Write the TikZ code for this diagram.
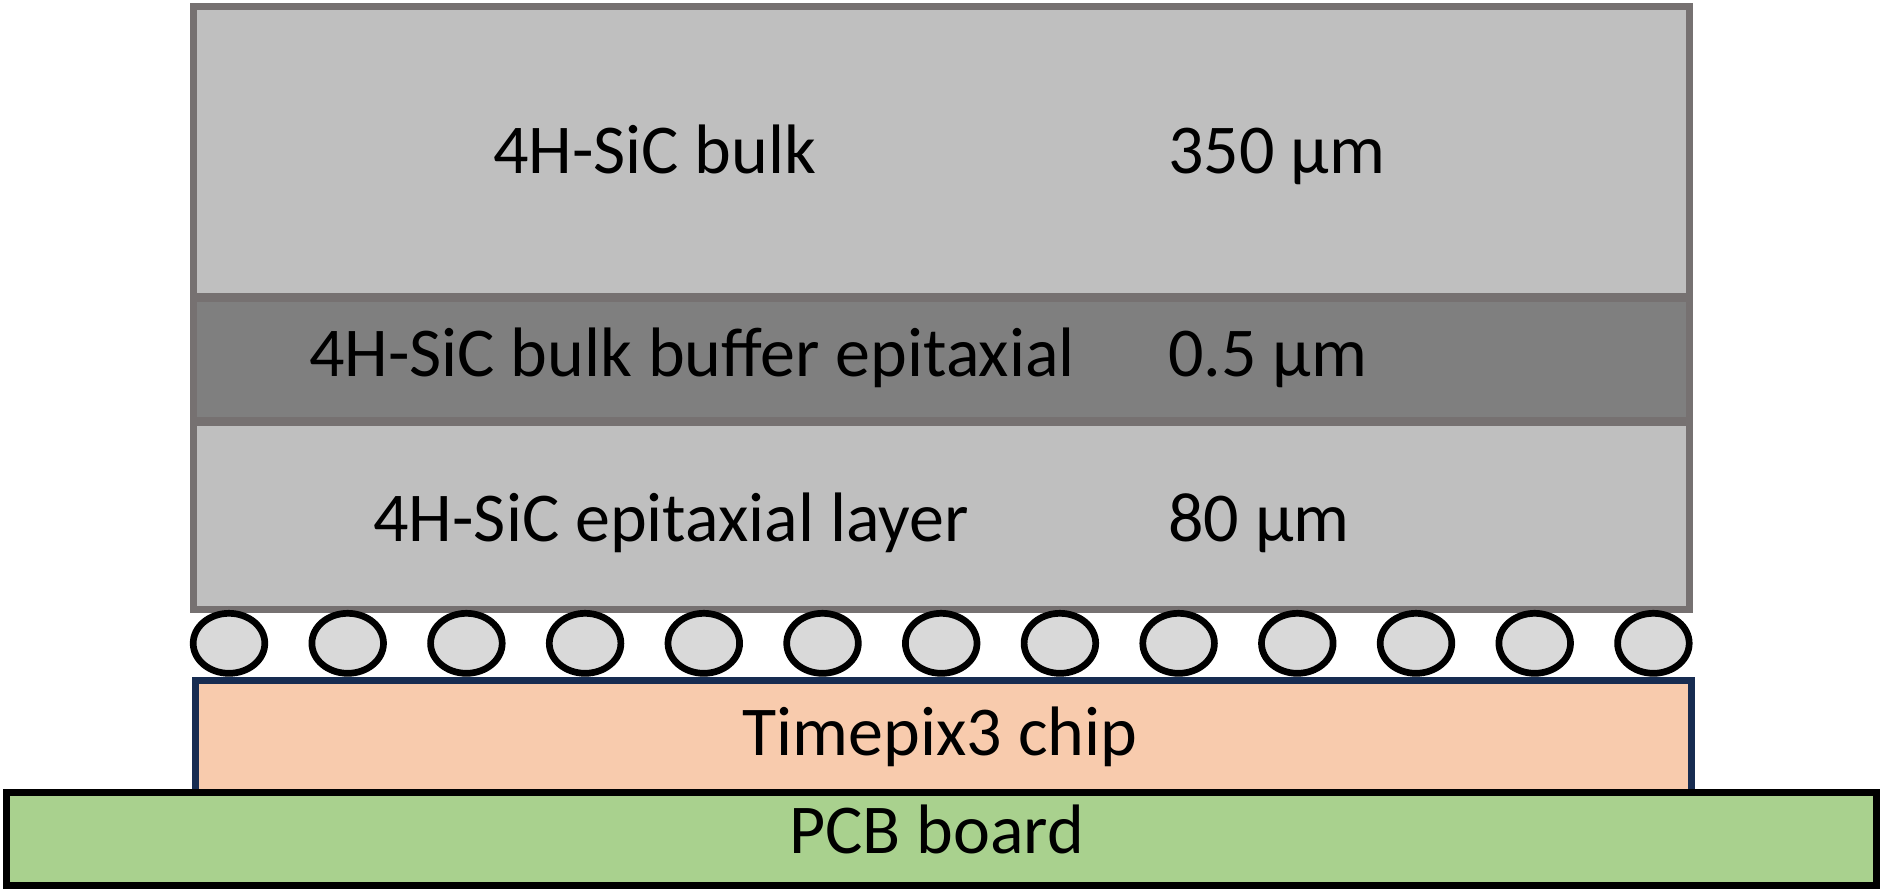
\documentclass[tikz,border=0pt]{standalone}
\usepackage{fontspec}
\setmainfont{Carlito}
\definecolor{layerborder}{HTML}{767171}
\definecolor{bulkfill}{HTML}{BFBFBF}
\definecolor{bufferfill}{HTML}{7F7F7F}
\definecolor{bumpfill}{HTML}{D9D9D9}
\definecolor{chipborder}{HTML}{172C51}
\definecolor{chipfill}{HTML}{F8CBAD}
\definecolor{pcbfill}{HTML}{A9D18E}
\tikzset{
  layer/.style={draw=layerborder, line width=7pt},
  bump/.style={draw=black, line width=6.7pt, fill=bumpfill},
  lbl/.style={inner sep=0pt, anchor=base, font=\fontsize{70}{84}\selectfont, text=black},
  thick/.style={inner sep=0pt, anchor=base west, font=\fontsize{70}{84}\selectfont, text=black}
}
\begin{document}
\begin{tikzpicture}[x=1pt,y=-1pt]
\useasboundingbox (0,0) rectangle (1882,895);
% layers
\path[layer, fill=bulkfill] (193.5,6.5) rectangle (1689.5,296.5);
\path[layer, fill=bufferfill] (193.5,298.5) rectangle (1689.5,420);
\path[layer, fill=bulkfill] (193.5,422.5) rectangle (1689.5,609);
% bumps
\foreach \i in {0,...,12} {
  \path[bump] ({229+118.7*\i},643.3) ellipse [x radius=35.8, y radius=30];
}
% chip
\path[draw=chipborder, line width=7pt, fill=chipfill] (195.5,680.7) rectangle (1691.3,792);
% pcb
\path[draw=black, line width=7pt, fill=pcbfill] (6.5,792.5) rectangle (1876.5,885.5);
% labels
\node[lbl] (bulk) at (654.7,173) {4H-SiC bulk};
\node[thick] (bulkt) at (1168,173) {350 µm};
\node[lbl] (buffer) at (692,376.5) {4H-SiC bulk buffer epitaxial};
\node[thick] (buffert) at (1168,376.5) {0.5 µm};
\node[lbl] (epi) at (671,541.7) {4H-SiC epitaxial layer};
\node[thick] (epit) at (1168,541.7) {80 µm};
\node[lbl] (chip) at (940,755) {Timepix3 chip};
\node[lbl] (pcb) at (936.7,853.3) {PCB board};
\end{tikzpicture}
\end{document}
